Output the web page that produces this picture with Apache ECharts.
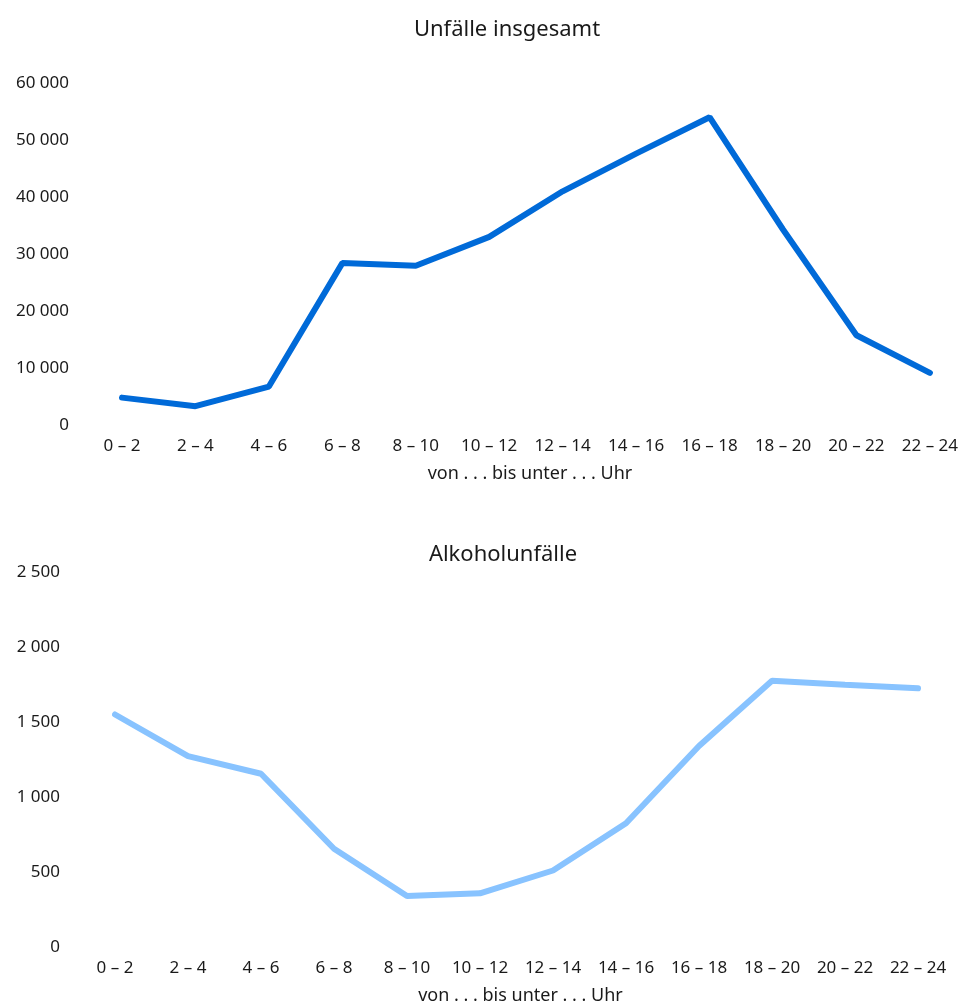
<!DOCTYPE html>
<html>
<head>
<meta charset="utf-8">
<script src="https://cdn.jsdelivr.net/npm/echarts@6/dist/echarts.min.js"></script>
<style>
  html, body { margin: 0; padding: 0; background: #fff; }
  #chart { width: 961px; height: 1008px; }
</style>
</head>
<body>
<div id="chart"></div>
<script>
// Zeitintervalle (von ... bis unter ... Uhr)
const hours = ['0 – 2', '2 – 4', '4 – 6', '6 – 8', '8 – 10', '10 – 12', '12 – 14', '14 – 16', '16 – 18', '18 – 20', '20 – 22', '22 – 24'];
// Unfälle insgesamt
const totalAccidents = [4800, 3300, 6750, 28400, 27950, 33000, 41000, 47600, 54000, 34300, 15750, 9150];
// Alkoholunfälle
const alcoholAccidents = [1550, 1273, 1155, 655, 340, 358, 510, 825, 1340, 1775, 1748, 1725];

const titleTop = 'Unfälle insgesamt';
const titleBottom = 'Alkoholunfälle';
const axisName = 'von . . . bis unter . . . Uhr';

const FONT = 'Noto Sans';
const TEXT = '#1a1a1a';

function fmt(v) {
  return String(v).replace(/\B(?=(\d{3})+(?!\d))/g, ' ');
}

function xAxis(gridIndex) {
  return {
    type: 'category', gridIndex, data: hours, boundaryGap: false,
    axisLine: { show: false }, axisTick: { show: false },
    axisLabel: { color: TEXT, fontFamily: FONT, fontSize: 17, margin: 13, interval: 0, hideOverlap: false },
    name: axisName, nameLocation: 'middle', nameGap: 40,
    nameTextStyle: { color: TEXT, fontFamily: FONT, fontSize: 18, verticalAlign: 'top', padding: [0, 0, 0, 8] }
  };
}

function yAxis(gridIndex, max, interval, margin) {
  return {
    type: 'value', gridIndex, min: 0, max, interval,
    splitLine: { show: false }, axisLine: { show: false }, axisTick: { show: false },
    axisLabel: { color: TEXT, fontFamily: FONT, fontSize: 17, margin, formatter: fmt }
  };
}

const chart = echarts.init(document.getElementById('chart'), null, { renderer: 'canvas' });
chart.setOption({
  backgroundColor: '#fff',
  animation: false,
  title: [
    { text: titleTop, left: 502, textAlign: 'center', top: 14,
      textStyle: { color: TEXT, fontFamily: FONT, fontSize: 22, fontWeight: 'normal' } },
    { text: titleBottom, left: 498, textAlign: 'center', top: 539,
      textStyle: { color: TEXT, fontFamily: FONT, fontSize: 22, fontWeight: 'normal' } }
  ],
  grid: [
    { left: 122, right: 31, top: 83, height: 342 },
    { left: 115, right: 43, top: 572, height: 375 }
  ],
  xAxis: [xAxis(0), xAxis(1)],
  yAxis: [yAxis(0, 60000, 10000, 53), yAxis(1, 2500, 500, 55)],
  series: [
    { type: 'line', xAxisIndex: 0, yAxisIndex: 0, data: totalAccidents,
      showSymbol: false, lineStyle: { color: '#006ad8', width: 6, cap: 'round' } },
    { type: 'line', xAxisIndex: 1, yAxisIndex: 1, data: alcoholAccidents,
      showSymbol: false, lineStyle: { color: '#88c3ff', width: 6, cap: 'round' } }
  ]
});
</script>
</body>
</html>
